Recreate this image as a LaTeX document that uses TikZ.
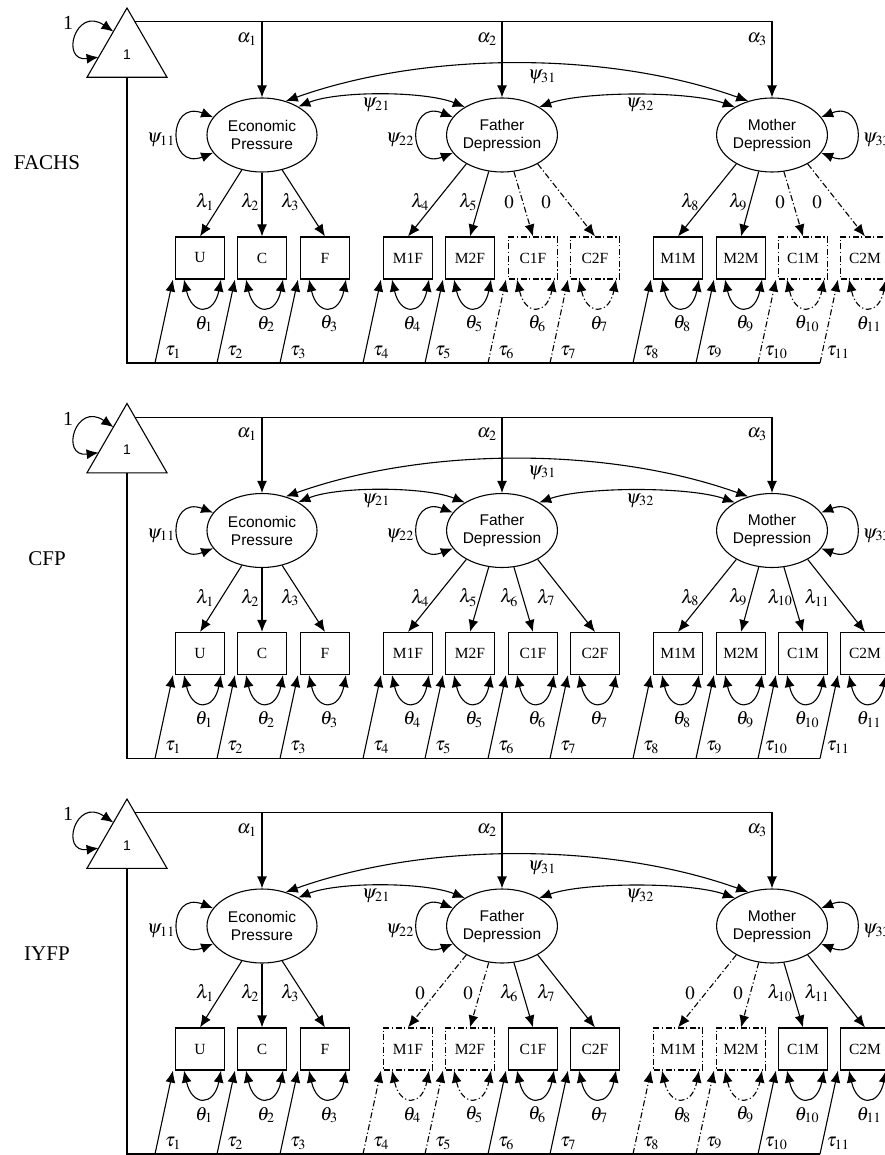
\documentclass[tikz,border=0pt]{standalone}
\usepackage{mathptmx}
\usepackage[no-math]{fontspec}
\setmainfont{Liberation Serif}
\setsansfont{Liberation Sans}
\usetikzlibrary{arrows.meta,shapes.geometric}

\tikzset{
  latent/.style={ellipse,draw,minimum width=110pt,minimum height=74pt,inner sep=0pt,align=center,font=\sffamily\fontsize{15.5}{18}\selectfont},
  obs/.style={rectangle,draw,minimum width=49pt,minimum height=42pt,inner sep=0pt,font=\fontsize{15.5}{18}\selectfont},
  mean/.style={regular polygon,regular polygon sides=3,draw,minimum size=92.4pt,inner sep=0pt,outer sep=0pt,font=\sffamily\fontsize{14}{16}\selectfont},
  lbl/.style={inner sep=0pt,font=\fontsize{19}{21}\selectfont},
  grp/.style={inner sep=0pt,font=\fontsize{21}{24}\selectfont},
  free/.style={},
  fixed/.style={dash pattern=on 6pt off 2.5pt on 1.2pt off 2.5pt},
}

% structural part of one group
\newcommand{\semcore}[1]{%
  \node[mean] (one) at (127,54.2) {1};
  \node[lbl,font=\fontsize{20}{22}\selectfont] (oneval) at (68,23) {1};
  \draw[<->] (one.121) .. controls +(-38,-26) and +(-39,5) .. (one.186);
  \node[latent] (ep) at (262,135) {Economic\\Pressure};
  \node[latent] (fd) at (502,135) {Father\\Depression};
  \node[latent] (md) at (772,135) {Mother\\Depression};
  \node[grp] (grp) at (47,163) {#1};
  % means
  \draw[->] (one.76) -| (md.north);
  \draw[->] (ep.north |- one.76) -- (ep.north);
  \draw[->] (fd.north |- one.76) -- (fd.north);
  \node[lbl] (a1) at (247,39) {$\alpha_1$};
  \node[lbl] (a2) at (487,39) {$\alpha_2$};
  \node[lbl] (a3) at (757,39) {$\alpha_3$};
  % intercepts
  \coordinate (base) at (820,363);
  \draw (one.south) |- (base);
  % variances
  \draw[<->] (ep.160) .. controls +(-46,-18) and +(-46,18) .. (ep.200);
  \draw[<->] (fd.160) .. controls +(-46,-18) and +(-46,18) .. (fd.200);
  \draw[<->] (md.20) .. controls +(46,-18) and +(46,18) .. (md.340);
  \node[lbl] (p11) at (161,140) {$\psi_{11}$};
  \node[lbl] (p22) at (400,140) {$\psi_{22}$};
  \node[lbl,anchor=west] (p33) at (862,140) {$\psi_{33}$};
  % covariances
  \draw[<->] (ep.38) .. controls +(40,-16) and +(-40,-16) .. (fd.143);
  \draw[<->] (fd.37) .. controls +(45,-16) and +(-45,-16) .. (md.143);
  \draw[<->] (ep.55) .. controls +(140,-50) and +(-140,-50) .. (md.125);
  \node[lbl] (p21) at (376,105) {$\psi_{21}$};
  \node[lbl] (p31) at (542,77) {$\psi_{31}$};
  \node[lbl] (p32) at (640,105) {$\psi_{32}$};
}

% one indicator: name, x, factor, angle, label x, loading, index, style
\newcommand{\indicator}[8]{%
  \node[obs,#8] (#1) at (#2,258) {#1};
  \draw[->,#8] (#3.#4) -- (#1.north);
  \node[lbl] (l#1) at (#5,202) {#6};
  \draw[<->,#8] ([xshift=-16pt]#1.south) .. controls +(8,36) and +(-7,36) .. ([xshift=21pt]#1.south);
  \node[lbl] (t#1) at (#2+4,324) {$\theta_{#7}$};
  \coordinate (f#1) at (#2-45,363);
  \draw[->,#8] (f#1) -- ([xshift=-2pt]#1.south west);
  \node[lbl] (i#1) at (#2-27,352) {$\tau_{#7}$};
}

\begin{document}
\begin{tikzpicture}[x=1pt,y=-1pt,line width=1.1pt,>={Latex[length=12pt,width=10pt]}]
\useasboundingbox (0,0) rectangle (884,1155);

% FACHS
\semcore{FACHS}
\indicator{U}{200}{ep}{240}{205}{$\lambda_1$}{1}{free}
\indicator{C}{262}{ep}{270}{250}{$\lambda_2$}{2}{free}
\indicator{F}{325}{ep}{300}{290}{$\lambda_3$}{3}{free}
\indicator{M1F}{408}{fd}{219}{420}{$\lambda_4$}{4}{free}
\indicator{M2F}{470}{fd}{250}{468}{$\lambda_5$}{5}{free}
\indicator{C1F}{533}{fd}{288}{509}{$0$}{6}{fixed}
\indicator{C2F}{595}{fd}{321}{546}{$0$}{7}{fixed}
\indicator{M1M}{678}{md}{219}{690}{$\lambda_8$}{8}{free}
\indicator{M2M}{741}{md}{250}{738}{$\lambda_9$}{9}{free}
\indicator{C1M}{803}{md}{288}{780}{$0$}{10}{fixed}
\indicator{C2M}{865}{md}{321}{817}{$0$}{11}{fixed}

% CFP
\begin{scope}[shift={(0,395.5)}]
\semcore{CFP}
\indicator{U}{200}{ep}{240}{205}{$\lambda_1$}{1}{free}
\indicator{C}{262}{ep}{270}{250}{$\lambda_2$}{2}{free}
\indicator{F}{325}{ep}{300}{290}{$\lambda_3$}{3}{free}
\indicator{M1F}{408}{fd}{219}{420}{$\lambda_4$}{4}{free}
\indicator{M2F}{470}{fd}{250}{468}{$\lambda_5$}{5}{free}
\indicator{C1F}{533}{fd}{288}{509}{$\lambda_6$}{6}{free}
\indicator{C2F}{595}{fd}{321}{546}{$\lambda_7$}{7}{free}
\indicator{M1M}{678}{md}{219}{690}{$\lambda_8$}{8}{free}
\indicator{M2M}{741}{md}{250}{738}{$\lambda_9$}{9}{free}
\indicator{C1M}{803}{md}{288}{780}{$\lambda_{10}$}{10}{free}
\indicator{C2M}{865}{md}{321}{817}{$\lambda_{11}$}{11}{free}
\end{scope}

% IYFP
\begin{scope}[shift={(0,791)}]
\semcore{IYFP}
\indicator{U}{200}{ep}{240}{205}{$\lambda_1$}{1}{free}
\indicator{C}{262}{ep}{270}{250}{$\lambda_2$}{2}{free}
\indicator{F}{325}{ep}{300}{290}{$\lambda_3$}{3}{free}
\indicator{M1F}{408}{fd}{219}{420}{$0$}{4}{fixed}
\indicator{M2F}{470}{fd}{250}{468}{$0$}{5}{fixed}
\indicator{C1F}{533}{fd}{288}{509}{$\lambda_6$}{6}{free}
\indicator{C2F}{595}{fd}{321}{546}{$\lambda_7$}{7}{free}
\indicator{M1M}{678}{md}{219}{690}{$0$}{8}{fixed}
\indicator{M2M}{741}{md}{250}{738}{$0$}{9}{fixed}
\indicator{C1M}{803}{md}{288}{780}{$\lambda_{10}$}{10}{free}
\indicator{C2M}{865}{md}{321}{817}{$\lambda_{11}$}{11}{free}
\end{scope}
\end{tikzpicture}
\end{document}
